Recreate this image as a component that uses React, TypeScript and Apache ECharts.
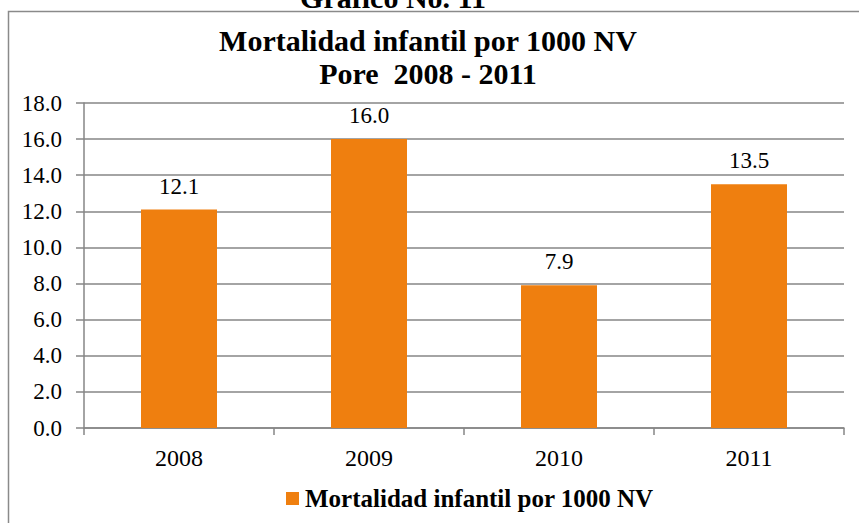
import React, { useEffect, useRef } from "react";
import * as echarts from "echarts";

const categories = ["2008", "2009", "2010", "2011"];
const values = [12.1, 16.0, 7.9, 13.5];
const seriesName = "Mortalidad infantil por 1000 NV";
const titleLines = ["Mortalidad infantil por 1000 NV", "Pore  2008 - 2011"];
const headerText = "Gráfico No. 11";
const yMin = 0;
const yMax = 18;
const yInterval = 2;

const FONT = "'Liberation Serif', 'Times New Roman', serif";
const BAR = "#EF7F0F";
const GRID = "#868686";

export default function App() {
  const ref = useRef<HTMLDivElement>(null);
  useEffect(() => {
    if (!ref.current) return;
    const chart = echarts.init(ref.current, null, { renderer: "svg" });
    chart.setOption({
      animation: false,
      backgroundColor: "#ffffff",
      title: {
        text: titleLines.join("\n"),
        left: 428,
        textAlign: "center",
        top: 24,
        padding: 0,
        textStyle: {
          fontFamily: FONT,
          fontWeight: "bold",
          fontSize: 30,
          lineHeight: 33,
          color: "#000",
        },
      },
      legend: {
        data: [seriesName],
        left: 286,
        top: 486,
        padding: 0,
        itemWidth: 13,
        itemHeight: 13,
        icon: "rect",
        textStyle: {
          fontFamily: FONT,
          fontWeight: "bold",
          fontSize: 25,
          color: "#000",
          padding: [0, 0, 0, 1],
        },
      },
      grid: { left: 84, right: 15, top: 103, bottom: 95, containLabel: false },
      xAxis: {
        type: "category",
        data: categories,
        boundaryGap: true,
        axisLine: { show: true, lineStyle: { color: GRID, width: 1.5 } },
        axisTick: { show: true, length: 7, lineStyle: { color: GRID, width: 1.5 } },
        axisLabel: {
          fontFamily: FONT,
          fontSize: 24,
          color: "#000",
          margin: 18,
        },
      },
      yAxis: {
        type: "value",
        min: yMin,
        max: yMax,
        interval: yInterval,
        axisLine: { show: true, lineStyle: { color: GRID, width: 1.5 } },
        axisTick: { show: true, length: 8, lineStyle: { color: GRID, width: 1.5 } },
        splitLine: { show: true, lineStyle: { color: GRID, width: 1.5 } },
        axisLabel: {
          fontFamily: FONT,
          fontSize: 23,
          color: "#000",
          margin: 22,
          formatter: (v: number) => v.toFixed(1),
        },
      },
      series: [
        {
          name: seriesName,
          type: "bar",
          data: values,
          barWidth: "40%",
          itemStyle: { color: BAR },
          label: {
            show: true,
            position: "top",
            distance: 12,
            fontFamily: FONT,
            fontSize: 23,
            color: "#000",
            formatter: (p: any) => Number(p.value).toFixed(1),
          },
        },
      ],
      graphic: [
        {
          type: "rect",
          shape: { x: 8.5, y: 11.5, width: 900, height: 600 },
          style: { fill: "none", stroke: "#8a8a8a", lineWidth: 1.5 },
          silent: true,
        },
        {
          type: "text",
          x: 393,
          y: 12,
          style: {
            text: headerText,
            font: `bold 30px ${FONT}`,
            fill: "#000",
            textAlign: "center",
            textVerticalAlign: "bottom",
          },
          silent: true,
        },
      ],
    });
    return () => chart.dispose();
  }, []);
  return <div ref={ref} style={{ width: 859, height: 523, position: "absolute", left: 0, top: 0 }} />;
}
